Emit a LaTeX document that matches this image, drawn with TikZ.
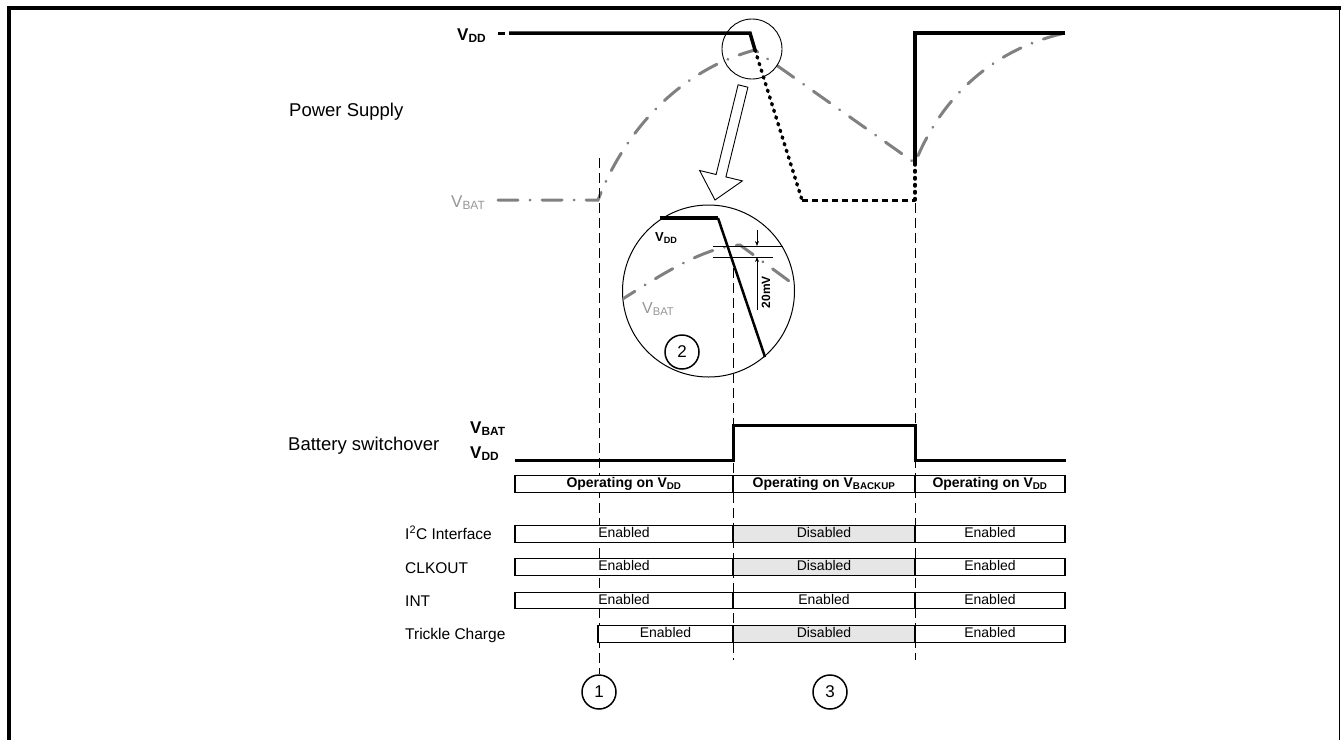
\documentclass[tikz,border=0pt]{standalone}
\usepackage{fontspec}
\setmainfont{Liberation Sans}
\usetikzlibrary{arrows.meta,calc}
\definecolor{batgray}{RGB}{128,128,128}
\definecolor{lblgray}{RGB}{150,150,150}
\definecolor{offgray}{RGB}{230,230,230}

\begin{document}
\begin{tikzpicture}[x=1pt,y=-1pt,>={Stealth[length=5pt,width=4pt]},
  lbl/.style={anchor=base west,inner sep=0pt,font=\fontsize{18.5}{20}\selectfont},
  rowlbl/.style={anchor=base west,inner sep=0pt,font=\fontsize{15.5}{18}\selectfont},
  vlbl/.style={anchor=base west,inner sep=0pt,font=\bfseries\fontsize{17}{18}\selectfont},
  cell/.style={draw,fill=white,line width=1.1pt,minimum height=16.5pt,inner sep=0pt,text height=10.5pt,text depth=3pt,font=\fontsize{14}{16}\selectfont},
  off/.style={cell,fill=offgray},
  hdr/.style={cell,font=\bfseries\fontsize{14}{16}\selectfont},
  vdd/.style={line width=3.5pt},
  vbat/.style={line width=3pt,draw=batgray,line cap=round,dash pattern=on 20pt off 12pt on 0.1pt off 12pt},
  drop/.style={line width=3.5pt,line cap=round,dash pattern=on 1.5pt off 5.5pt},
  vline/.style={line width=0.9pt,dash pattern=on 10pt off 5pt},
  num/.style={draw,circle,fill=white,line width=1.5pt,minimum size=34pt,inner sep=0pt,font=\fontsize{17}{17}\selectfont}]
\useasboundingbox (0,0) rectangle (1341,740);
% frame
\draw[line width=4pt] (1341,7.5) -- (8.5,7.5) -- (8.5,740);
\draw[line width=1.5pt] (1339.5,7) -- (1339.5,740);

% power supply
\node[lbl] (ps) at (289,116) {Power Supply};
\node[vlbl] (vddtop) at (457,40) {V\textsubscript{DD}};
\node[vlbl,font=\fontsize{17}{18}\selectfont,text=lblgray] (vbattop) at (451,207) {V\textsubscript{BAT}};

\coordinate (d0) at (509,33);
\coordinate (d1) at (750,33);
\coordinate (d2) at (755,50);
\coordinate (d3) at (802,200);
\coordinate (d4) at (915,200);
\coordinate (d5) at (915,163);
\coordinate (d6) at (915,33);
\coordinate (d7) at (1065,33);
\coordinate (b0) at (498,200);
\coordinate (b1) at (598,200);
\coordinate (b3) at (915,163);
\coordinate (b4) at (1065,33);

\draw[vbat] (b0) -- (b1) .. controls (625,130) and (680,70) .. (d2) -- (b3) .. controls (940,100) and (990,50) .. (b4);
\draw[line width=3pt] (498,33) -- (505,33);
\draw[vdd] (d0) -- (d1) -- (d2);
\draw[drop] (d2) -- (d3);
\draw[line width=3pt,dash pattern=on 6pt off 4pt] (d3) -- (d4);
\draw[drop] (d4) -- (d5);
\draw[vdd] (d5) -- (d6) -- (d7);

% magnifier
\draw[line width=0.9pt] (752,49) circle[radius=30pt];
\draw[line width=0.9pt,fill=white] (747.9,87.2) -- (725.9,176.9) -- (742.4,180.9) -- (715,200)
  -- (699.6,170.5) -- (716.1,174.5) -- (738.1,84.8) -- cycle;
\draw[line width=1pt] (708.5,291) circle[radius=86pt];
\begin{scope}
  \clip (708.5,291) circle[radius=85.5pt];
  \draw[vbat] (618,302) .. controls (665,272) and (705,247) .. (740,245) -- (800,289);
\end{scope}
\draw[line width=3.5pt] (660,218) -- (718,218);
\draw[line width=2.5pt] (718,218) -- (765,357);
\node[vlbl,font=\bfseries\fontsize{13}{14}\selectfont] (vddz) at (655,241) {V\textsubscript{DD}};
\node[vlbl,font=\fontsize{16}{16}\selectfont,text=lblgray] (vbatz) at (642,313) {V\textsubscript{BAT}};

% 20mV step
\coordinate (m0) at (713,246);
\coordinate (m1) at (783,246);
\coordinate (m2) at (713,257);
\coordinate (m3) at (773,257);
\coordinate (a0) at (757,230);
\coordinate (a1) at (757,246);
\coordinate (a2) at (757,310);
\coordinate (a3) at (757,257);
\draw[line width=0.7pt] (m0) -- (m1);
\draw[line width=0.7pt] (m2) -- (m3);
\draw[->,line width=0.7pt] (a0) -- (a1);
\draw[->,line width=0.7pt] (a2) -- (a3);
\node[rotate=90,inner sep=0pt,font=\bfseries\fontsize{12}{12}\selectfont] (mv) at (766,292) {20mV};
\node[num] (n2) at (682,352) {2};

% time markers
\coordinate (t1) at (599,158);
\coordinate (t2) at (733,268);
\coordinate (t2e) at (733,660);
\coordinate (t3) at (915,203);
\coordinate (t3e) at (915,660);
\node[num] (n1) at (599,692) {1};
\node[num] (n3) at (830,692) {3};
\draw[vline] (t1) -- (n1);
\draw[vline] (t2) -- (t2e);
\draw[vline] (t3) -- (t3e);

% battery switchover
\node[lbl] (bs) at (288,450) {Battery switchover};
\node[vlbl] (vbatsw) at (470,433) {V\textsubscript{BAT}};
\node[vlbl] (vddsw) at (470,458) {V\textsubscript{DD}};
\coordinate (s0) at (515,460);
\coordinate (s1) at (733,460);
\coordinate (s2) at (733,425);
\coordinate (s3) at (915,425);
\coordinate (s4) at (915,460);
\coordinate (s5) at (1066,460);
\draw[line width=3pt] (s0) -- (s1) -- (s2) -- (s3) -- (s4) -- (s5);

% state table
\node[hdr,minimum width=218pt] (op1) at (624,484) {Operating on V\textsubscript{DD}};
\node[hdr,minimum width=182pt] (op2) at (824,484) {Operating on V\textsubscript{BACKUP}};
\node[hdr,minimum width=150pt] (op3) at (990,484) {Operating on V\textsubscript{DD}};

\node[rowlbl] (i2c) at (405,539) {I\textsuperscript{2}C Interface};
\node[cell,minimum width=218pt] (i2c1) at (624,534) {Enabled};
\node[off,minimum width=182pt] (i2c2) at (824,534) {Disabled};
\node[cell,minimum width=150pt] (i2c3) at (990,534) {Enabled};

\node[rowlbl] (clk) at (405,573) {CLKOUT};
\node[cell,minimum width=218pt] (clk1) at (624,567) {Enabled};
\node[off,minimum width=182pt] (clk2) at (824,567) {Disabled};
\node[cell,minimum width=150pt] (clk3) at (990,567) {Enabled};

\node[rowlbl] (int) at (405,606) {INT};
\node[cell,minimum width=218pt] (int1) at (624,600.5) {Enabled};
\node[cell,minimum width=182pt] (int2) at (824,600.5) {Enabled};
\node[cell,minimum width=150pt] (int3) at (990,600.5) {Enabled};

\node[rowlbl] (tc) at (405,639) {Trickle Charge};
\node[cell,minimum width=135pt] (tc1) at (665.5,634) {Enabled};
\node[off,minimum width=182pt] (tc2) at (824,634) {Disabled};
\node[cell,minimum width=150pt] (tc3) at (990,634) {Enabled};
\end{tikzpicture}
\end{document}
